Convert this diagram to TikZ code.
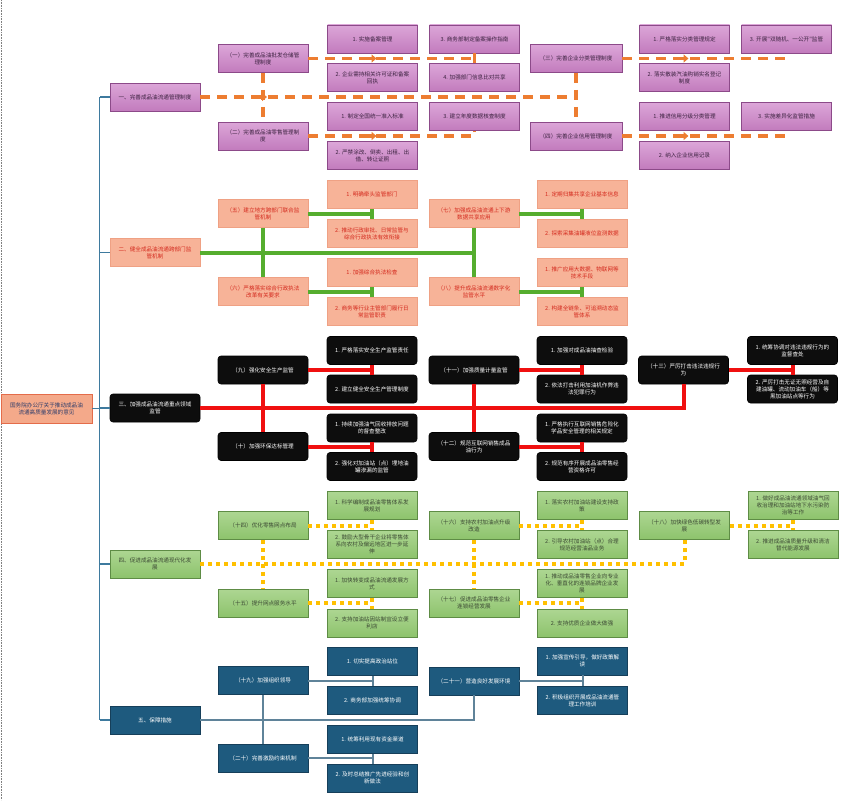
\documentclass[tikz,border=0pt]{standalone}
\usepackage{fontspec}
\newfontfamily\cjk{Noto Sans CJK SC}
\XeTeXlinebreaklocale "zh"
\XeTeXlinebreakskip=0pt
\usetikzlibrary{arrows.meta}
\definecolor{odPurpleTop}{HTML}{DCA6D8}
\definecolor{odPurpleBot}{HTML}{C27BBD}
\definecolor{odPurpleLine}{HTML}{8C4A89}
\definecolor{odPurpleInk}{HTML}{3C2240}
\definecolor{odOrange}{HTML}{ED7D31}
\definecolor{odSalmon}{HTML}{F7B398}
\definecolor{odSalmonLine}{HTML}{EFA184}
\definecolor{odSalmonInk}{HTML}{D42A1E}
\definecolor{odGrass}{HTML}{55AD2E}
\definecolor{odRed}{HTML}{F01010}
\definecolor{odGreenTop}{HTML}{ADD692}
\definecolor{odGreenBot}{HTML}{8DC36C}
\definecolor{odGreenLine}{HTML}{5E8C45}
\definecolor{odGreenInk}{HTML}{3C4A34}
\definecolor{odYellow}{HTML}{FFC000}
\definecolor{odNavy}{HTML}{1E5A7E}
\definecolor{odNavyLine}{HTML}{163F5A}
\definecolor{odSteel}{HTML}{5F8399}
\definecolor{odTrunk}{HTML}{3E7A9E}
\definecolor{odRoot}{HTML}{F4A98A}
\definecolor{odRootLine}{HTML}{E46C4A}
\definecolor{odRootInk}{HTML}{2E3D6B}
\tikzset{
  od diagram/.style={x=1pt, y=-1pt, line cap=butt, line join=miter},
  od box/.style={align=flush center, inner sep=1pt, minimum width=90pt,
    minimum height=28pt, text width=74pt, line width=0.6pt,
    font=\cjk\fontsize{5.6}{7}\selectfont},
  od purple/.style={od box, draw=odPurpleLine, top color=odPurpleTop,
    bottom color=odPurpleBot, text=odPurpleInk},
  od salmon/.style={od box, draw=odSalmonLine, fill=odSalmon, text=odSalmonInk},
  od black/.style={od box, draw=black, fill=black!95, rounded corners=3pt,
    text=white},
  od green/.style={od box, draw=odGreenLine, top color=odGreenTop,
    bottom color=odGreenBot, text=odGreenInk},
  od navy/.style={od box, draw=odNavyLine, fill=odNavy, text=white},
  od root/.style={od box, draw=odRootLine, fill=odRoot, text=odRootInk,
    minimum width=91pt, minimum height=29pt},
  od dash/.style={draw=odOrange, line width=3.5pt, dash pattern=on 10pt off 7pt},
  od mark/.style={draw=odOrange, line width=3.5pt,
    -{Triangle[length=5pt,width=8pt]}},
  od grass/.style={draw=odGrass, line width=4pt},
  od red/.style={draw=odRed, line width=4pt},
  od dots/.style={draw=odYellow, line width=4pt, dash pattern=on 4pt off 4pt},
  od steel/.style={draw=odSteel, line width=2pt},
  od trunk/.style={draw=odTrunk, line width=1.5pt}
}

\begin{document}
\begin{tikzpicture}[od diagram]
\useasboundingbox (0,0) rectangle (858,800);
\fill[white] (0,0) rectangle (858,800);
\draw[gray, densely dotted, line width=0.6pt] (0.8,0) -- (0.8,800);

% root and main sections
\node[od root] (root) at (46.5,408.5) {国务院办公厅关于推动成品油流通高质量发展的意见};
\node[od purple] (s1) at (155,97) {一、完善成品油流通管理制度};
\node[od salmon] (s2) at (155,252.5) {二、健全成品油流通跨部门监管机制};
\node[od black] (s3) at (155,408) {三、加强成品油流通重点领域监管};
\node[od green] (s4) at (155,564) {四、促进成品油流通现代化发展};
\node[od navy] (s5) at (155,720) {五、保障措施};

% section 1
\node[od purple] (p1) at (263,58.5) {（一）完善成品油批发仓储管理制度};
\node[od purple] (p2) at (263,136) {（二）完善成品油零售管理制度};
\node[od purple, minimum width=92pt] (p3) at (576,58.5) {（三）完善企业分类管理制度};
\node[od purple, minimum width=92pt] (p4) at (576,136) {（四）完善企业信用管理制度};
\node[od purple] (i1a) at (372.5,39) {1. 实施备案管理};
\node[od purple] (i1b) at (372.5,77.5) {2. 企业需持相关许可证和备案回执};
\node[od purple] (i1c) at (474.5,39) {3. 商务部制定备案操作指南};
\node[od purple] (i1d) at (474.5,77.5) {4. 加强部门信息比对共享};
\node[od purple] (i2a) at (372.5,116.5) {1. 制定全国统一准入标准};
\node[od purple] (i2b) at (372.5,155.5) {2. 严禁涂改、倒卖、出租、出借、转让证照};
\node[od purple] (i2c) at (474.5,116.5) {3. 建立年度数据核查制度};
\node[od purple] (i3a) at (684.5,39) {1. 严格落实分类管理规定};
\node[od purple] (i3b) at (684.5,77.5) {2. 落实散装汽油购销实名登记制度};
\node[od purple] (i3c) at (786.5,39) {3. 开展"双随机、一公开"监管};
\node[od purple] (i4a) at (684.5,116.5) {1. 推进信用分级分类管理};
\node[od purple] (i4b) at (684.5,155.5) {2. 纳入企业信用记录};
\node[od purple] (i4c) at (786.5,116.5) {3. 实施差异化监管措施};

% section 2
\node[od salmon] (p5) at (263,213.5) {（五）建立地方跨部门联合监管机制};
\node[od salmon] (p6) at (263,291.5) {（六）严格落实综合行政执法改革有关要求};
\node[od salmon] (p7) at (474,213.5) {（七）加强成品油流通上下游数据共享应用};
\node[od salmon] (p8) at (474,291.5) {（八）提升成品油流通数字化监管水平};
\node[od salmon] (i5a) at (372,194.5) {1. 明确牵头监管部门};
\node[od salmon] (i5b) at (372,233.5) {2. 推动行政审批、日常监管与综合行政执法有效衔接};
\node[od salmon] (i6a) at (372,272.5) {1. 加强综合执法检查};
\node[od salmon] (i6b) at (372,311.5) {2. 商务等行业主管部门履行日常监管职责};
\node[od salmon] (i7a) at (582,194.5) {1. 定期归集共享企业基本信息};
\node[od salmon] (i7b) at (582,233.5) {2. 探索采集油罐液位监测数据};
\node[od salmon] (i8a) at (582,272.5) {1. 推广应用大数据、物联网等技术手段};
\node[od salmon] (i8b) at (582,311.5) {2. 构建全链条、可追溯动态监管体系};

% section 3
\node[od black] (p9) at (263,370) {（九）强化安全生产监管};
\node[od black] (p10) at (263,446.5) {（十）加强环保达标管理};
\node[od black] (p11) at (474,370) {（十一）加强质量计量监管};
\node[od black] (p12) at (474,446.5) {（十二）规范互联网销售成品油行为};
\node[od black] (p13) at (683.5,370) {（十三）严厉打击违法违规行为};
\node[od black] (i9a) at (372,350.5) {1. 严格落实安全生产监管责任};
\node[od black] (i9b) at (372,389) {2. 建立健全安全生产管理制度};
\node[od black] (i10a) at (372,428) {1. 持续加强油气回收排放问题的督查整改};
\node[od black] (i10b) at (372,466.5) {2. 强化对加油站（点）埋地油罐渗漏的监管};
\node[od black] (i11a) at (582,350.5) {1. 加强对成品油抽查检验};
\node[od black] (i11b) at (582,389) {2. 依法打击利用加油机作弊违法犯罪行为};
\node[od black] (i12a) at (582,428) {1. 严格执行互联网销售危险化学品安全管理的相关规定};
\node[od black] (i12b) at (582,466.5) {2. 规范有序开展成品油零售经营资格许可};
\node[od black] (i13a) at (792.5,350.5) {1. 统筹协调对违法违规行为的监督查处};
\node[od black] (i13b) at (792.5,389) {2. 严厉打击无证无照经营及自建油罐、流动加油车（船）等黑加油站点等行为};

% section 4
\node[od green] (p14) at (263,525.5) {（十四）优化零售网点布局};
\node[od green] (p15) at (263,603) {（十五）提升网点服务水平};
\node[od green] (p16) at (474,525.5) {（十六）支持农村加油点升级改造};
\node[od green] (p17) at (474,603) {（十七）促进成品油零售企业连锁经营发展};
\node[od green] (p18) at (684.5,525.5) {（十八）加快绿色低碳转型发展};
\node[od green] (i14a) at (372,505.5) {1. 科学编制成品油零售体系发展规划};
\node[od green] (i14b) at (372,544.5) {2. 鼓励大型骨干企业将零售体系向农村及偏远地区进一步延伸};
\node[od green] (i15a) at (372,583.5) {1. 加快转变成品油流通发展方式};
\node[od green] (i15b) at (372,623) {2. 支持加油站因站制宜设立便利店};
\node[od green] (i16a) at (582,505.5) {1. 落实农村加油站建设支持政策};
\node[od green] (i16b) at (582,544.5) {2. 引导农村加油站（点）合理规范经营油品业务};
\node[od green] (i17a) at (582,583.5) {1. 推动成品油零售企业向专业化、垂直化的连锁品牌企业发展};
\node[od green] (i17b) at (582,623) {2. 支持优质企业做大做强};
\node[od green] (i18a) at (793,505.5) {1. 做好成品油流通领域油气回收治理和加油站地下水污染防治等工作};
\node[od green] (i18b) at (793,544.5) {2. 推进成品油质量升级和清洁替代能源发展};

% section 5
\node[od navy] (p19) at (263,680.5) {（十九）加强组织领导};
\node[od navy] (p20) at (263,758) {（二十）完善激励约束机制};
\node[od navy] (p21) at (474,681) {（二十一）营造良好发展环境};
\node[od navy] (i19a) at (372.5,661.5) {1. 切实提高政治站位};
\node[od navy] (i19b) at (372.5,700.5) {2. 商务部加强统筹协调};
\node[od navy] (i20a) at (372.5,739.5) {1. 统筹利用现有资金渠道};
\node[od navy] (i20b) at (372.5,778) {2. 及时总结推广先进经验和创新做法};
\node[od navy] (i21a) at (582.5,661) {1. 加强宣传引导，做好政策解读};
\node[od navy] (i21b) at (582.5,700.5) {2. 积极组织开展成品油流通管理工作培训};

% trunk
\draw[od trunk] ([xshift=-10pt]s1.west) -- ([xshift=-10pt]s5.west);
\foreach \s in {s1,s2,s3,s4,s5}
  \draw[od trunk] (\s.west) -- ++(-10,0);
\draw[od trunk] (root.east) -- ++(8,0);

% section 1 connectors
\draw[od dash] (s1.east) -- (s1.east -| p3.center);
\draw[od dash] (p1.south) -- (p2.north);
\draw[od dash] (p3.south) -- (p4.north);
\draw[od dash] (p1.east) -- (p1.east -| i1c.center);
\draw[od dash] (i1c.south) -- (i1d.north);
\draw[od dash] (p2.east) -- (p2.east -| i2c.center) -- (i2c.south);
\draw[od dash] (p3.east) -- (p3.east -| i3c.center) -- (i3c.south);
\draw[od dash] (p4.east) -- (p4.east -| i4c.center) -- (i4c.south);
\foreach \a/\b in {s1/p1, p1/i1a, p2/i2a, p3/i3a, p4/i4a}
  \draw[od mark] ([xshift=-6pt]\a.east -| \b.center) -- ([xshift=4pt]\a.east -| \b.center);

% section 2 connectors
\draw[od grass] (s2.east) -- (s2.east -| p7.center);
\draw[od grass] (p5.south) -- (p6.north);
\draw[od grass] (p7.south) -- (p8.north);
\foreach \a/\b/\c in {p5/i5a/i5b, p6/i6a/i6b, p7/i7a/i7b, p8/i8a/i8b} {
  \draw[od grass] (\a.east) -- (\a.east -| \b.center);
  \draw[od grass] (\b.south) -- (\c.north);
}

% section 3 connectors
\draw[od red] (s3.east) -- (s3.east -| p13.center) -- (p13.south);
\draw[od red] (p9.south) -- (p10.north);
\draw[od red] (p11.south) -- (p12.north);
\foreach \a/\b/\c in {p9/i9a/i9b, p10/i10a/i10b, p11/i11a/i11b, p12/i12a/i12b, p13/i13a/i13b} {
  \draw[od red] (\a.east) -- (\a.east -| \b.center);
  \draw[od red] (\b.south) -- (\c.north);
}

% section 4 connectors
\draw[od dots] (s4.east) -- (s4.east -| p18.center) -- (p18.south);
\draw[od dots] (p14.south) -- (p15.north);
\draw[od dots] (p16.south) -- (p17.north);
\foreach \a/\b/\c in {p14/i14a/i14b, p15/i15a/i15b, p16/i16a/i16b, p17/i17a/i17b, p18/i18a/i18b} {
  \draw[od dots] (\a.east) -- (\a.east -| \b.center);
  \draw[od dots] (\b.south) -- (\c.north);
}

% section 5 connectors
\draw[od steel] (s5.east) -- (s5.east -| p21.center) -- (p21.south);
\draw[od steel] (p19.south) -- (p20.north);
\foreach \a/\b/\c in {p19/i19a/i19b, p20/i20a/i20b, p21/i21a/i21b} {
  \draw[od steel] (\a.east) -- (\a.east -| \b.center);
  \draw[od steel] (\b.south) -- (\c.north);
}
\end{tikzpicture}
\end{document}
